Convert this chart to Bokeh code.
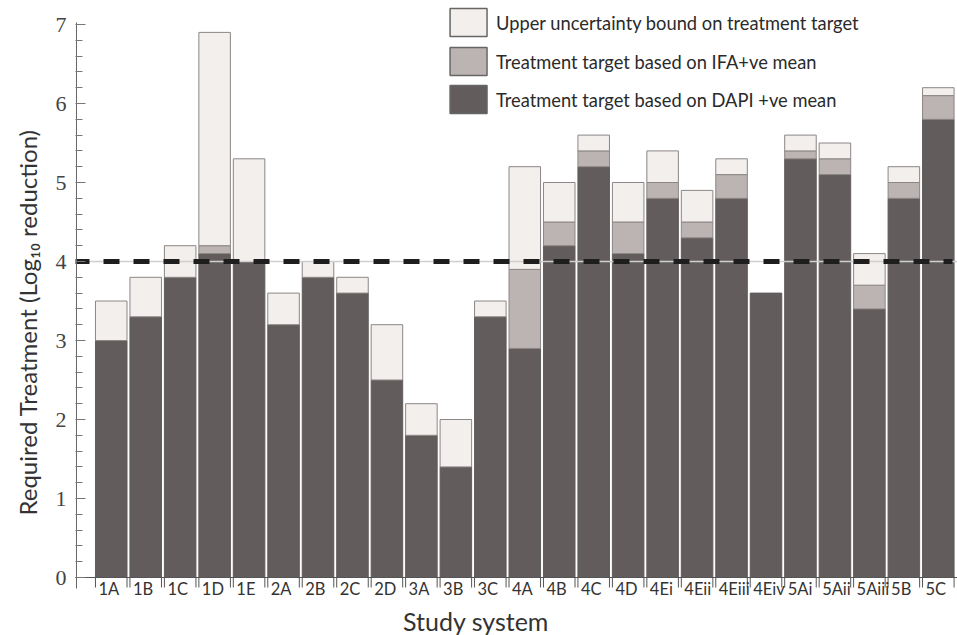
import math
from bokeh.plotting import figure
from bokeh.models import Range1d, FixedTicker, ColumnDataSource, Title
from bokeh.core.properties import value
from bokeh.embed import file_html
from bokeh.resources import INLINE

# ---------------- data ----------------
categories = ["1A", "1B", "1C", "1D", "1E", "2A", "2B", "2C", "2D", "3A", "3B", "3C",
              "4A", "4B", "4C", "4D", "4Ei", "4Eii", "4Eiii", "4Eiv",
              "5Ai", "5Aii", "5Aiii", "5B", "5C"]
dapi_mean = [3.0, 3.3, 3.8, 4.1, 4.0, 3.2, 3.8, 3.6, 2.5, 1.8, 1.4, 3.3,
             2.9, 4.2, 5.2, 4.1, 4.8, 4.3, 4.8, 3.6, 5.3, 5.1, 3.4, 4.8, 5.8]
ifa_mean = [None, None, None, 4.2, None, None, None, None, None, None, None, None,
            3.9, 4.5, 5.4, 4.5, 5.0, 4.5, 5.1, None, 5.4, 5.3, 3.7, 5.0, 6.1]
upper_bound = [3.5, 3.8, 4.2, 6.9, 5.3, 3.6, 4.0, 3.8, 3.2, 2.2, 2.0, 3.5,
               5.2, 5.0, 5.6, 5.0, 5.4, 4.9, 5.3, None, 5.6, 5.5, 4.1, 5.2, 6.2]
y_ticks = [0, 1, 2, 3, 4, 5, 6, 7]
target_line = 4.0

legend_labels = ["Upper uncertainty bound on treatment target",
                 "Treatment target based on IFA+ve mean",
                 "Treatment target based on DAPI +ve mean"]

DARK = "#625c5c"
MID = "#bbb4b3"
LIGHT = "#f3efed"
EDGE = "#8c8686"
FONT = "Lato"

# ---------------- geometry (canvas px) ----------------
W, H = 957, 635
LEFT = 74            # frame left
UNIT = 34.5          # px per category
PXY = 79.0           # px per y unit
Y0 = 577             # canvas y of value 0
BAR_W = 0.915

x_start = (0.5 - BAR_W / 2) - (94 - LEFT) / UNIT
x_end = x_start + (W - LEFT) / UNIT
y_end = Y0 / PXY
y_start = -(H - Y0) / PXY


def px2x(px):
    return x_start + (px - LEFT) / UNIT


def px2y(py):
    return (Y0 - py) / PXY


p = figure(width=W, height=H, x_range=Range1d(x_start, x_end),
           y_range=Range1d(y_start, y_end), output_backend="svg",
           toolbar_location=None, x_axis_location=None,
           min_border_left=LEFT, min_border_right=0, min_border_top=0,
           min_border_bottom=0)
p.outline_line_color = None
p.xgrid.visible = False
p.ygrid.visible = False
p.background_fill_color = "white"
p.border_fill_color = "white"

# ---------------- bars ----------------
n = len(categories)
xs = [i + 0.5 for i in range(n)]
ifa_top = [ifa_mean[i] if ifa_mean[i] is not None else dapi_mean[i] for i in range(n)]

dark_src = ColumnDataSource(dict(x=xs, top=dapi_mean, bottom=[0] * n))
p.vbar(x="x", top="top", bottom="bottom", width=BAR_W, source=dark_src,
       fill_color=DARK, line_color=DARK, line_width=1)

mid_idx = [i for i in range(n) if ifa_mean[i] is not None]
mid_src = ColumnDataSource(dict(x=[xs[i] for i in mid_idx],
                                top=[ifa_mean[i] for i in mid_idx],
                                bottom=[dapi_mean[i] for i in mid_idx]))
p.vbar(x="x", top="top", bottom="bottom", width=BAR_W, source=mid_src,
       fill_color=MID, line_color=EDGE, line_width=1)

up_idx = [i for i in range(n) if upper_bound[i] is not None]
up_src = ColumnDataSource(dict(x=[xs[i] for i in up_idx],
                               top=[upper_bound[i] for i in up_idx],
                               bottom=[ifa_top[i] for i in up_idx]))
p.vbar(x="x", top="top", bottom="bottom", width=BAR_W, source=up_src,
       fill_color=LIGHT, line_color=EDGE, line_width=1)

# ---------------- target line ----------------
p.segment(x0=[px2x(75)], y0=[target_line], x1=[px2x(957)], y1=[target_line],
          line_color="#cfcfcf", line_width=1.5)
p.segment(x0=[px2x(72)], y0=[target_line], x1=[px2x(952)], y1=[target_line],
          line_color="#1e1e1e", line_width=5, line_dash="16 14")

# ---------------- axis lines ----------------
p.segment(x0=[px2x(70)], y0=[0], x1=[px2x(957)], y1=[0],
          line_color="#555555", line_width=1)
p.segment(x0=[px2x(75)], y0=[px2y(588)], x1=[px2x(75)], y1=[px2y(22)],
          line_color="#666666", line_width=1)

# category tick marks at both bar edges
edges = []
for x in xs:
    edges += [x - BAR_W / 2, x + BAR_W / 2]
p.segment(x0=edges, y0=[0] * len(edges), x1=edges, y1=[px2y(587)] * len(edges),
          line_color="#555555", line_width=1)

p.text(x=[x - BAR_W / 2 + 3 / UNIT for x in xs], y=[px2y(588)] * n, text=categories,
       text_font=value(FONT), text_font_size="16.5px", text_color="#333333",
       text_align="left", text_baseline="middle")

p.text(x=[px2x(475)], y=[px2y(620)], text=["Study system"],
       text_font=value(FONT), text_font_size="25px", text_color="#333333",
       text_align="center", text_baseline="middle")

# ---------------- y axis ----------------
ax = p.yaxis[0]
ax.ticker = FixedTicker(ticks=y_ticks,
                        minor_ticks=[round(0.2 * k, 1) for k in range(1, 35) if k % 5])
ax.axis_line_color = None
ax.major_tick_in = 10
ax.major_tick_out = 0
ax.minor_tick_in = 7
ax.minor_tick_out = 0
ax.major_tick_line_color = "#777777"
ax.minor_tick_line_color = "#777777"
ax.major_label_standoff = 9
ax.major_label_text_font = "Liberation Serif"
ax.major_label_text_font_size = "22px"
ax.major_label_text_color = "#444444"

p.add_layout(Title(text="Required Treatment (Log\u2081\u2080 reduction)", align="left",
                   offset=120, standoff=21, text_font=FONT, text_font_size="24px",
                   text_font_style="normal", text_color="#333333"), "left")

# ---------------- legend ----------------
box_left, box_right = px2x(449), px2x(486)
box_tops = [8, 47, 85]
fills = [LIGHT, MID, DARK]
for top_px, fc, lab in zip(box_tops, fills, legend_labels):
    p.quad(left=[box_left], right=[box_right], top=[px2y(top_px)],
           bottom=[px2y(top_px + 28)], fill_color=fc, line_color="#666666",
           line_width=1.5)
    p.text(x=[px2x(495)], y=[px2y(top_px + 14)], text=[lab],
           text_font=value(FONT), text_font_size="18.3px", text_color="#2a2a2a",
           text_align="left", text_baseline="middle")

open("out.html", "w").write(file_html(p, INLINE))
